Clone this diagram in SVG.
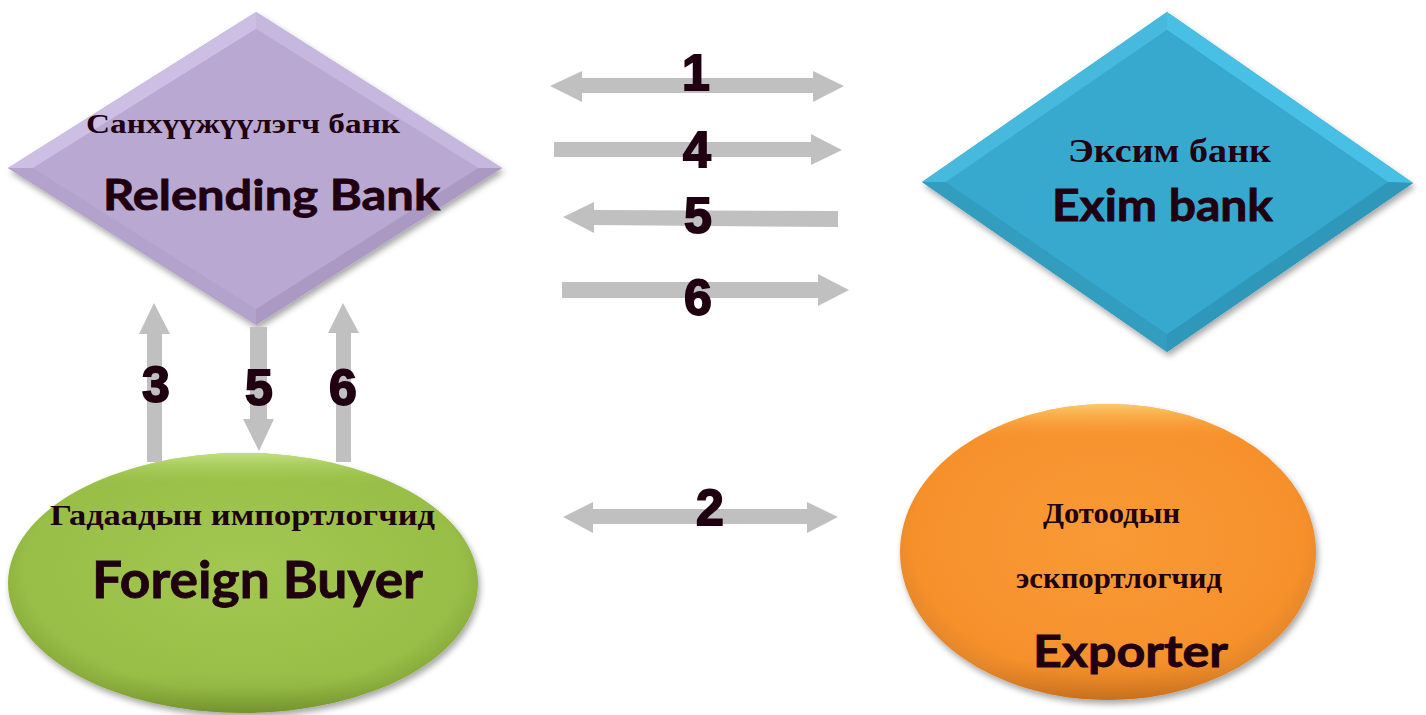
<svg xmlns="http://www.w3.org/2000/svg" width="1426" height="715" viewBox="0 0 1426 715">
<style>
.arrow{fill:#c0c0c0;}
.num{font-family:"Liberation Sans",Arial,sans-serif;font-weight:bold;font-size:50px;fill:#200010;stroke:#200010;stroke-width:1.8;text-anchor:middle;}
.cy{font-family:"Liberation Serif","Times New Roman",serif;font-weight:bold;fill:#200010;}
.en{font-family:Lato,"Open Sans",sans-serif;font-weight:bold;fill:#200010;stroke:#200010;stroke-width:0.8;}
</style>
<defs>
<filter id="sh" x="-10%" y="-10%" width="120%" height="125%">
<feDropShadow dx="2" dy="4" stdDeviation="3" flood-color="#000" flood-opacity="0.35"/>
</filter>
<radialGradient id="gGreen" cx="50%" cy="45%" r="55%">
<stop offset="0" stop-color="#a2c852"/>
<stop offset="0.85" stop-color="#98be46"/>
<stop offset="1" stop-color="#86a83a"/>
</radialGradient>
<linearGradient id="gGreenV" x1="0" y1="0" x2="0" y2="1">
<stop offset="0" stop-color="#c6e485" stop-opacity="0.9"/>
<stop offset="0.12" stop-color="#a6cb55" stop-opacity="0"/>
<stop offset="0.85" stop-color="#8aad3c" stop-opacity="0"/>
<stop offset="1" stop-color="#6f8d2c" stop-opacity="0.8"/>
</linearGradient>
<radialGradient id="gOrange" cx="50%" cy="45%" r="55%">
<stop offset="0" stop-color="#f99a35"/>
<stop offset="0.85" stop-color="#f6912c"/>
<stop offset="1" stop-color="#e0842a"/>
</radialGradient>
<linearGradient id="gOrangeV" x1="0" y1="0" x2="0" y2="1">
<stop offset="0" stop-color="#fdd070" stop-opacity="0.9"/>
<stop offset="0.12" stop-color="#f99a35" stop-opacity="0"/>
<stop offset="0.85" stop-color="#e8852a" stop-opacity="0"/>
<stop offset="1" stop-color="#c06a18" stop-opacity="0.8"/>
</linearGradient>
</defs>

<g id="relending-bank">
<polygon points="256,12 502,168 256,325 8,168" fill="#b9a8d1" filter="url(#sh)"/>
<polygon points="8,168 256,12 256,29 33,168" fill="#cdbfe3"/>
<polygon points="256,12 502,168 478,168 256,29" fill="#c6b7de"/>
<polygon points="502,168 256,325 256,309 478,168" fill="#ab99c4"/>
<polygon points="256,325 8,168 33,168 256,309" fill="#b3a2cc"/>
<polygon points="256,29 478,168 256,309 33,168" fill="#b9a8d1"/>
<text class="cy" x="86" y="133" font-size="28" textLength="314" lengthAdjust="spacingAndGlyphs">Санхүүжүүлэгч банк</text>
<text class="en" x="103" y="210" font-size="42" textLength="337" lengthAdjust="spacingAndGlyphs">Relending Bank</text>
</g>

<g id="exim-bank">
<polygon points="1167,12 1413,183 1167,352 922,182" fill="#37a9ce" filter="url(#sh)"/>
<polygon points="922,182 1167,12 1167,30 946,182" fill="#47b9dd"/>
<polygon points="1167,12 1413,183 1388,182 1167,30" fill="#48bfe5"/>
<polygon points="1413,183 1167,352 1167,334 1388,182" fill="#2f97b9"/>
<polygon points="1167,352 922,182 946,182 1167,334" fill="#339dc0"/>
<polygon points="1167,30 1388,182 1167,334 946,182" fill="#37a9ce"/>
<text class="cy" x="1068" y="162" font-size="34" textLength="203" lengthAdjust="spacingAndGlyphs">Эксим банк</text>
<text class="en" x="1052" y="221" font-size="43" textLength="221" lengthAdjust="spacingAndGlyphs">Exim bank</text>
</g>

<g id="foreign-buyer">
<ellipse cx="243" cy="583" rx="235" ry="130" fill="url(#gGreen)" filter="url(#sh)"/>
<ellipse cx="243" cy="583" rx="235" ry="130" fill="url(#gGreenV)"/>
<text class="cy" x="50" y="525" font-size="30" textLength="385" lengthAdjust="spacingAndGlyphs">Гадаадын импортлогчид</text>
<text class="en" x="92" y="598" font-size="52" textLength="331" lengthAdjust="spacingAndGlyphs">Foreign Buyer</text>
</g>

<g id="exporter">
<ellipse cx="1108" cy="552" rx="208" ry="148" fill="url(#gOrange)" filter="url(#sh)"/>
<ellipse cx="1108" cy="552" rx="208" ry="148" fill="url(#gOrangeV)"/>
<text class="cy" x="1043" y="523" font-size="29" textLength="137" lengthAdjust="spacingAndGlyphs">Дотоодын</text>
<text class="cy" x="1016" y="588" font-size="29" textLength="206" lengthAdjust="spacingAndGlyphs">эскпортлогчид</text>
<text class="en" x="1033" y="667" font-size="44" textLength="195" lengthAdjust="spacingAndGlyphs">Exporter</text>
</g>

<g id="connectors">
<polygon class="arrow" points="550,86 582,71 582,78 813,78 813,71 844,86 813,102 813,93 582,93 582,102"/>
<polygon class="arrow" points="554,142 811,142 811,134 842,150 811,165 811,157 554,157"/>
<polygon class="arrow" points="563,217 594,202 594,210 838,211 838,227 594,225 594,233"/>
<polygon class="arrow" points="562,282 818,282 818,274 849,290 818,306 818,298 562,298"/>
<polygon class="arrow" points="563,517 593,502 593,509 807,509 807,502 838,517 807,533 807,524 593,524 593,533"/>
<polygon class="arrow" points="154,303 170,334 162,334 162,462 147,462 147,334 139,334"/>
<polygon class="arrow" points="250,327 267,327 267,419 274,419 259,451 243,419 250,419"/>
<polygon class="arrow" points="343,303 359,333 351,333 351,462 336,462 336,333 328,333"/>
<text class="num" x="696" y="90">1</text>
<text class="num" x="697" y="167">4</text>
<text class="num" x="698" y="233">5</text>
<text class="num" x="698" y="315">6</text>
<text class="num" x="710" y="525">2</text>
<text class="num" x="156" y="402">3</text>
<text class="num" x="259" y="405">5</text>
<text class="num" x="343" y="405">6</text>
</g>
</svg>
